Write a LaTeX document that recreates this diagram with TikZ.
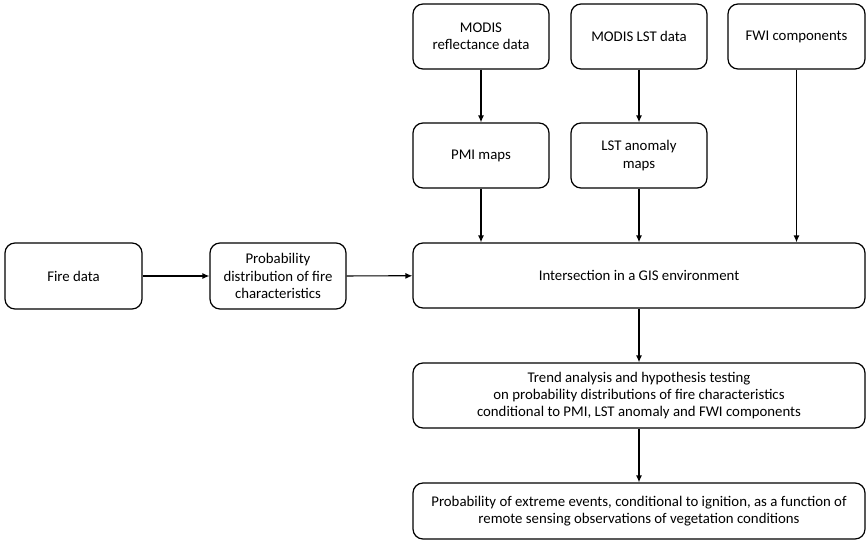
\documentclass[tikz,border=0pt]{standalone}
\usepackage{fontspec}
\setmainfont{Carlito}
\usetikzlibrary{arrows.meta}
\begin{document}
\begin{tikzpicture}[x=1pt,y=-1pt,
  box/.style={draw, rounded corners=10pt, line width=1.2pt, align=center, inner sep=2pt,
    font=\fontsize{14.8}{17.3}\selectfont},
  arr/.style={-{Latex[length=7pt,width=6pt]}, line width=1.2pt}]
\useasboundingbox (0,0) rectangle (867,549);
\node[box, minimum width=137pt, minimum height=66pt] (fire) at (73.5,276) {Fire data};
\node[box, minimum width=136pt, minimum height=66pt] (prob) at (278,276) {Probability\\distribution of fire\\characteristics};
\node[box, minimum width=452pt, minimum height=65pt] (gis) at (639,275.5) {Intersection in a GIS environment};
\node[box, minimum width=136pt, minimum height=65pt] (modr) at (481,36.5) {MODIS\\reflectance data};
\node[box, minimum width=136pt, minimum height=65pt] (modl) at (639,36.5) {MODIS LST data};
\node[box, minimum width=137pt, minimum height=65pt] (fwi) at (796.5,36.5) {FWI components};
\node[box, minimum width=136pt, minimum height=65pt] (pmi) at (481,155.5) {PMI maps};
\node[box, minimum width=136pt, minimum height=65pt] (lsta) at (639,155.5) {LST anomaly\\maps};
\node[box, minimum width=452pt, minimum height=65pt] (trend) at (639,395.5) {Trend analysis and hypothesis testing\\on probability distributions of fire characteristics\\conditional to PMI, LST anomaly and FWI components};
\node[box, minimum width=452pt, minimum height=56pt] (final) at (639,511) {Probability of extreme events, conditional to ignition, as a function of\\remote sensing observations of vegetation conditions};
\draw[arr] (fire) -- (prob);
\draw[arr] (prob) -- (gis);
\draw[arr] (modr) -- (pmi);
\draw[arr] (modl) -- (lsta);
\draw[arr] (pmi) -- (pmi |- gis.north);
\draw[arr] (lsta) -- (gis);
\draw[arr] (fwi) -- (fwi |- gis.north);
\draw[arr] (gis) -- (trend);
\draw[arr] (trend) -- (final);
\end{tikzpicture}
\end{document}
